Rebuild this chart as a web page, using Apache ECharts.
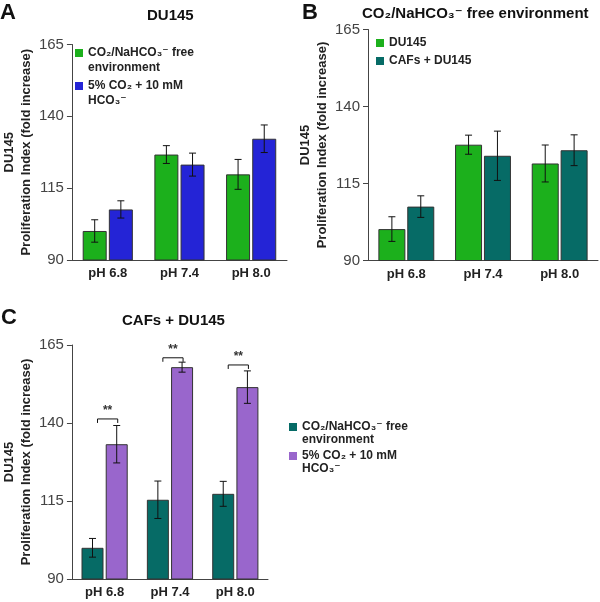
<!DOCTYPE html>
<html><head><meta charset="utf-8">
<script src="https://cdn.jsdelivr.net/npm/echarts@6/dist/echarts.min.js"></script>
<style>html,body{margin:0;padding:0;background:#fff}#c{width:600px;height:602px}</style>
</head><body><div id="c"></div>
<script>
// ---------- data ----------
const categories = ['pH 6.8', 'pH 7.4', 'pH 8.0'];
const yTicks = [90, 115, 140, 165];

// Panel A: DU145
const aFree = [100.1, 126.7, 119.8];
const aFreeErr = [3.9, 3.1, 5.2];
const aCO2 = [107.6, 123.2, 132.2];
const aCO2Err = [3.0, 4.0, 4.8];

// Panel B: CO2/NaHCO3- free environment
const bDU = [100.2, 127.6, 121.5];
const bDUErr = [4.0, 3.1, 6.0];
const bCAF = [107.5, 124.0, 125.8];
const bCAFErr = [3.5, 8.0, 5.0];

// Panel C: CAFs + DU145
const cFree = [100.0, 115.4, 117.3];
const cFreeErr = [3.0, 6.0, 4.0];
const cCO2 = [133.2, 157.9, 151.5];
const cCO2Err = [6.0, 1.6, 5.2];
const cSigY = [141.3, 160.9, 158.6];
const cSigLabel = ['**', '**', '**'];

const nameFree = 'CO\u2082/NaHCO\u2083\u207B free\nenvironment';
const nameCO2 = '5% CO\u2082 + 10 mM\nHCO\u2083\u207B';
const nameFreeC = 'CO\u2082/NaHCO\u2083\u207B free\nenvironment ';
const nameCO2C = '5% CO\u2082 + 10 mM\nHCO\u2083\u207B ';
const nameDU = 'DU145';
const nameCAF = 'CAFs + DU145';

// ---------- style ----------
const FONT = '"Liberation Sans", "DejaVu Sans", sans-serif';
const GREEN = '#1cb01c', BLUE = '#2424d6', TEAL = '#066b66', PURPLE = '#9966cc';
const BW = [24, 27, 22];       // bar widths per panel
const GAPPCT = [0.09, 0.07, 0.1];
// legend icon: square at top of a taller (invisible) box so it sits on the first text line
const iconTop = (h) => 'path://M0,0h8v8h-8zM0,' + h + 'L0,' + h;

const chart = echarts.init(document.getElementById('c'), null, {renderer: 'canvas'});

function barSeries(name, idx, vals, color) {
  return {
    name: name, type: 'bar', xAxisIndex: idx, yAxisIndex: idx, data: vals,
    barWidth: BW[idx], barGap: (GAPPCT[idx] * 100) + '%',
    itemStyle: {color: color, borderColor: '#333', borderWidth: 1},
    emphasis: {disabled: true}, animation: false
  };
}
function errSeries(idx, vals, errs, side) {
  const bw = BW[idx], gap = bw * GAPPCT[idx];
  return {
    type: 'custom', xAxisIndex: idx, yAxisIndex: idx, z: 10, animation: false,
    data: vals.map((v, i) => [i, v - errs[i], v + errs[i]]),
    renderItem(params, api) {
      const lo = api.coord([api.value(0), api.value(1)]);
      const hi = api.coord([api.value(0), api.value(2)]);
      const x = lo[0] + side * (bw + gap) / 2;
      const cap = 3.5;
      const st = {stroke: '#111', lineWidth: 1};
      return {type: 'group', children: [
        {type: 'line', shape: {x1: x, y1: lo[1], x2: x, y2: hi[1]}, style: st},
        {type: 'line', shape: {x1: x - cap, y1: lo[1], x2: x + cap, y2: lo[1]}, style: st},
        {type: 'line', shape: {x1: x - cap, y1: hi[1], x2: x + cap, y2: hi[1]}, style: st}
      ]};
    }
  };
}
function sigSeries() {
  const idx = 2, bw = BW[idx], gap = bw * GAPPCT[idx];
  return {
    type: 'custom', xAxisIndex: idx, yAxisIndex: idx, z: 10, animation: false,
    data: cSigY.map((v, i) => [i, v]),
    renderItem(params, api) {
      const p = api.coord([api.value(0), api.value(1)]);
      const off = (bw + gap) / 2;
      const x1 = p[0] - off + 5, x2 = p[0] + off + 1, y = p[1];
      return {type: 'group', children: [
        {type: 'polyline', shape: {points: [[x1, y + 4], [x1, y], [x2, y], [x2, y + 4]]},
         style: {stroke: '#111', fill: null, lineWidth: 1}},
        {type: 'text', style: {text: cSigLabel[params.dataIndex], x: (x1 + x2) / 2, y: y - 2,
         align: 'center', verticalAlign: 'bottom', font: 'bold 12px ' + FONT, fill: '#333'}}
      ]};
    }
  };
}

const grids = [
  {left: 67, top: 44.5, width: 220, height: 215.5},
  {left: 368, top: 29.5, width: 230, height: 231},
  {left: 67, top: 345, width: 201, height: 234}
];
const nameGaps = [31, 33, 34];

const option = {
  backgroundColor: '#fff',
  animation: false,
  textStyle: {fontFamily: FONT},
  title: [
    {text: 'A', left: 0, top: 2, padding: 0, textStyle: {fontSize: 22, fontWeight: 'bold', color: '#111', fontFamily: FONT}},
    {text: 'DU145', left: 147, top: 8, padding: 0, textStyle: {fontSize: 15, fontWeight: 'bold', color: '#111', fontFamily: FONT}},
    {text: 'B', left: 302, top: 2, padding: 0, textStyle: {fontSize: 22, fontWeight: 'bold', color: '#111', fontFamily: FONT}},
    {text: 'CO\u2082/NaHCO\u2083\u207B free environment', left: 362, top: 6, padding: 0, textStyle: {fontSize: 15, fontWeight: 'bold', color: '#111', fontFamily: FONT}},
    {text: 'C', left: 1, top: 307, padding: 0, textStyle: {fontSize: 22, fontWeight: 'bold', color: '#111', fontFamily: FONT}},
    {text: 'CAFs + DU145', left: 122, top: 313, padding: 0, textStyle: {fontSize: 15, fontWeight: 'bold', color: '#111', fontFamily: FONT}}
  ],
  legend: [
    {left: 75, top: 45.5, padding: 0, orient: 'vertical', data: [nameFree, nameCO2], icon: iconTop(23),
     itemWidth: 8, itemHeight: 23, itemGap: 3, selectedMode: false, itemStyle: {borderWidth: 0},
     textStyle: {fontSize: 12, fontWeight: 'bold', color: '#222', lineHeight: 15, fontFamily: FONT}},
    {left: 376, top: 36, padding: 0, orient: 'vertical', data: [nameDU, nameCAF], icon: 'rect',
     itemWidth: 8, itemHeight: 8, itemGap: 4, selectedMode: false, itemStyle: {borderWidth: 0},
     textStyle: {fontSize: 12, fontWeight: 'bold', color: '#222', lineHeight: 14, fontFamily: FONT}},
    {left: 289, top: 420.5, padding: 0, orient: 'vertical', data: [nameFreeC, nameCO2C], icon: iconTop(21),
     itemWidth: 8, itemHeight: 21, itemGap: 3, selectedMode: false, itemStyle: {borderWidth: 0},
     textStyle: {fontSize: 12, fontWeight: 'bold', color: '#222', lineHeight: 13, fontFamily: FONT}}
  ],
  grid: grids,
  xAxis: [0, 1, 2].map(i => ({
    gridIndex: i, type: 'category', data: categories,
    axisLine: {lineStyle: {color: '#444', width: 1}},
    axisTick: {length: 4, lineStyle: {color: '#444'}},
    axisLabel: {fontWeight: 'bold', fontSize: 13, color: '#222', margin: 7, fontFamily: FONT}
  })),
  yAxis: [0, 1, 2].map(i => ({
    gridIndex: i, type: 'value', min: 90, max: 165,
    name: 'DU145\nProliferation Index (fold increase)', nameLocation: 'middle', nameGap: nameGaps[i],
    nameTextStyle: {fontWeight: 'bold', fontSize: 13, lineHeight: 17, color: '#222', fontFamily: FONT},
    axisLine: {show: true, lineStyle: {color: '#444', width: 1}},
    axisTick: {show: true, length: 5, customValues: yTicks, lineStyle: {color: '#444'}},
    axisLabel: {customValues: yTicks, fontSize: 15, color: '#444', margin: 8, fontFamily: FONT},
    splitLine: {show: false}
  })),
  series: [
    barSeries(nameFree, 0, aFree, GREEN),
    barSeries(nameCO2, 0, aCO2, BLUE),
    errSeries(0, aFree, aFreeErr, -1),
    errSeries(0, aCO2, aCO2Err, 1),
    barSeries(nameDU, 1, bDU, GREEN),
    barSeries(nameCAF, 1, bCAF, TEAL),
    errSeries(1, bDU, bDUErr, -1),
    errSeries(1, bCAF, bCAFErr, 1),
    barSeries(nameFreeC, 2, cFree, TEAL),
    barSeries(nameCO2C, 2, cCO2, PURPLE),
    errSeries(2, cFree, cFreeErr, -1),
    errSeries(2, cCO2, cCO2Err, 1),
    sigSeries()
  ]
};
chart.setOption(option);
</script>
</body></html>
